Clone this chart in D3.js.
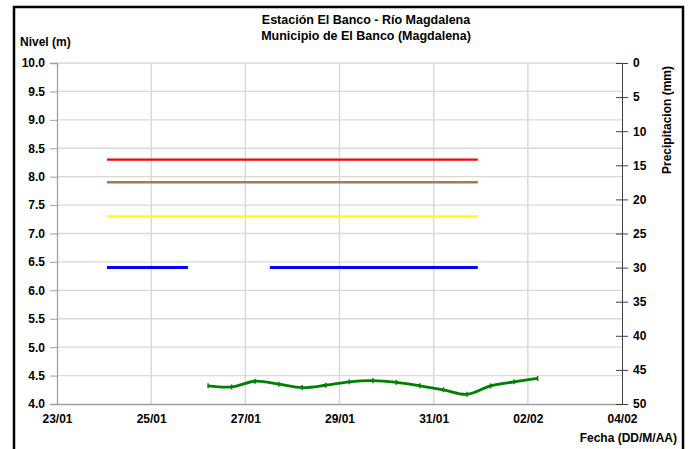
<!DOCTYPE html>
<html>
<head>
<meta charset="utf-8">
<script src="https://cdn.jsdelivr.net/npm/d3@7"></script>
<style>
html,body{margin:0;padding:0;background:#fff;}
svg text{font-family:"Liberation Sans",Arial,sans-serif;font-weight:bold;fill:#000;}
</style>
</head>
<body>
<svg id="chart" width="692" height="449"></svg>
<script>
// ---- data ----
const titleLines = ["Estación El Banco - Río Magdalena", "Municipio de El Banco (Magdalena)"];
const xTickLabels = ["23/01","25/01","27/01","29/01","31/01","02/02","04/02"];
const yLeftTicks = [4.0,4.5,5.0,5.5,6.0,6.5,7.0,7.5,8.0,8.5,9.0,9.5,10.0];
const yRightTicks = [0,5,10,15,20,25,30,35,40,45,50];

// threshold lines
const redLine    = {start:"2011-01-24T01:30", end:"2011-01-31T22:30", value:8.3};
const brownLine  = {start:"2011-01-24T01:30", end:"2011-01-31T22:30", value:7.9};
const yellowLine = {start:"2011-01-24T01:30", end:"2011-01-31T22:30", value:7.3};
const blueSegments = [
  {start:"2011-01-24T01:30", end:"2011-01-25T18:45", value:6.4},
  {start:"2011-01-27T12:30", end:"2011-01-31T22:30", value:6.4}
];

// observed level (every 12 h)
const levelDates = ["2011-01-26T05:00","2011-01-26T17:00","2011-01-27T05:00","2011-01-27T17:00",
  "2011-01-28T05:00","2011-01-28T17:00","2011-01-29T05:00","2011-01-29T17:00","2011-01-30T05:00",
  "2011-01-30T17:00","2011-01-31T05:00","2011-01-31T17:00","2011-02-01T05:00","2011-02-01T17:00",
  "2011-02-02T05:00"];
const levelValues = [4.32,4.30,4.40,4.35,4.29,4.33,4.39,4.41,4.38,4.32,4.25,4.17,4.32,4.39,4.45];

// ---- layout ----
const svg = d3.select("#chart");
const pLeft = 57, pRight = 622, pTop = 63, pBottom = 404;
const parse = d3.isoParse;
const x = d3.scaleTime().domain([parse("2011-01-23T00:00"), parse("2011-02-04T00:00")]).range([pLeft, pRight]);
const y = d3.scaleLinear().domain([4, 10]).range([pBottom, pTop]);
const y2 = d3.scaleLinear().domain([0, 50]).range([pTop, pBottom]);
const xTickDates = xTickLabels.map((t,i)=> d3.timeDay.offset(parse("2011-01-23T00:00"), i*2));

// outer frame
svg.append("rect").attr("x",14).attr("y",7).attr("width",669).attr("height",460)
  .attr("fill","none").attr("stroke","#000").attr("stroke-width",2.5);

// gridlines
svg.append("g").selectAll("line").data(yLeftTicks.slice(1)).join("line")
  .attr("x1",pLeft).attr("x2",pRight).attr("y1",d=>y(d)).attr("y2",d=>y(d))
  .attr("stroke","#d9d9d9").attr("stroke-width",1.3);
svg.append("g").selectAll("line").data(xTickDates.slice(1,-1)).join("line")
  .attr("x1",d=>x(d)).attr("x2",d=>x(d)).attr("y1",pTop).attr("y2",pBottom)
  .attr("stroke","#d9d9d9").attr("stroke-width",1.5);

const fontSet = sel => sel.attr("font-size",12).attr("font-family","Liberation Sans, Arial").attr("font-weight","bold").attr("fill","#000");

// left axis
const gL = svg.append("g").attr("transform",`translate(${pLeft},0)`)
  .call(d3.axisLeft(y).tickValues(yLeftTicks).tickFormat(d3.format(".1f")).tickSize(7).tickPadding(5));
gL.select(".domain").attr("stroke","#a0a0a0").attr("stroke-width",1.3);
gL.selectAll(".tick line").attr("stroke","#a0a0a0");
fontSet(gL.selectAll("text"));

// bottom axis
const gB = svg.append("g").attr("transform",`translate(0,${pBottom})`)
  .call(d3.axisBottom(x).tickValues(xTickDates).tickFormat((d,i)=>xTickLabels[i]).tickSize(0).tickPadding(10));
gB.select(".domain").attr("stroke","#a0a0a0").attr("stroke-width",1.3);
fontSet(gB.selectAll("text"));

// right axis
const gR = svg.append("g").attr("transform",`translate(${pRight},0)`)
  .call(d3.axisRight(y2).tickValues(yRightTicks).tickSize(6).tickPadding(5));
gR.select(".domain").attr("stroke","#404040").attr("stroke-width",1);
gR.selectAll(".tick line").attr("x1",-6).attr("stroke","#404040");
fontSet(gR.selectAll("text"));

// threshold lines
function hline(seg, color, w){
  svg.append("line").attr("x1",x(parse(seg.start))).attr("x2",x(parse(seg.end)))
    .attr("y1",y(seg.value)).attr("y2",y(seg.value)).attr("stroke",color).attr("stroke-width",w);
}
hline(redLine,"#ff0000",2.2);
hline(brownLine,"#a87a4e",2.5);
hline(yellowLine,"#ffff00",2.2);
blueSegments.forEach(s=>hline(s,"#0000ff",3));

// level line
const pts = levelDates.map((d,i)=>({t:parse(d), v:levelValues[i]}));
svg.append("path").datum(pts)
  .attr("d", d3.line().x(d=>x(d.t)).y(d=>y(d.v)).curve(d3.curveCatmullRom.alpha(0.5)))
  .attr("fill","none").attr("stroke","#008000").attr("stroke-width",2.8);
svg.append("g").selectAll("line").data(pts).join("line")
  .attr("x1",d=>x(d.t)).attr("x2",d=>x(d.t)).attr("y1",d=>y(d.v)-2.5).attr("y2",d=>y(d.v)+2.5)
  .attr("stroke","#008000").attr("stroke-width",1.5);

// titles
svg.selectAll(".title").data(titleLines).join("text").attr("class","title")
  .attr("x",366).attr("y",(d,i)=>24+i*16).attr("text-anchor","middle").attr("font-size",12.5).text(d=>d);
svg.append("text").attr("x",20).attr("y",46).attr("font-size",12).text("Nivel (m)");
svg.append("text").attr("transform","translate(671,120) rotate(-90)").attr("text-anchor","middle")
  .attr("font-size",12).text("Precipitacion (mm)");
svg.append("text").attr("x",677).attr("y",442).attr("text-anchor","end").attr("font-size",12).text("Fecha (DD/M/AA)");
</script>
</body>
</html>
